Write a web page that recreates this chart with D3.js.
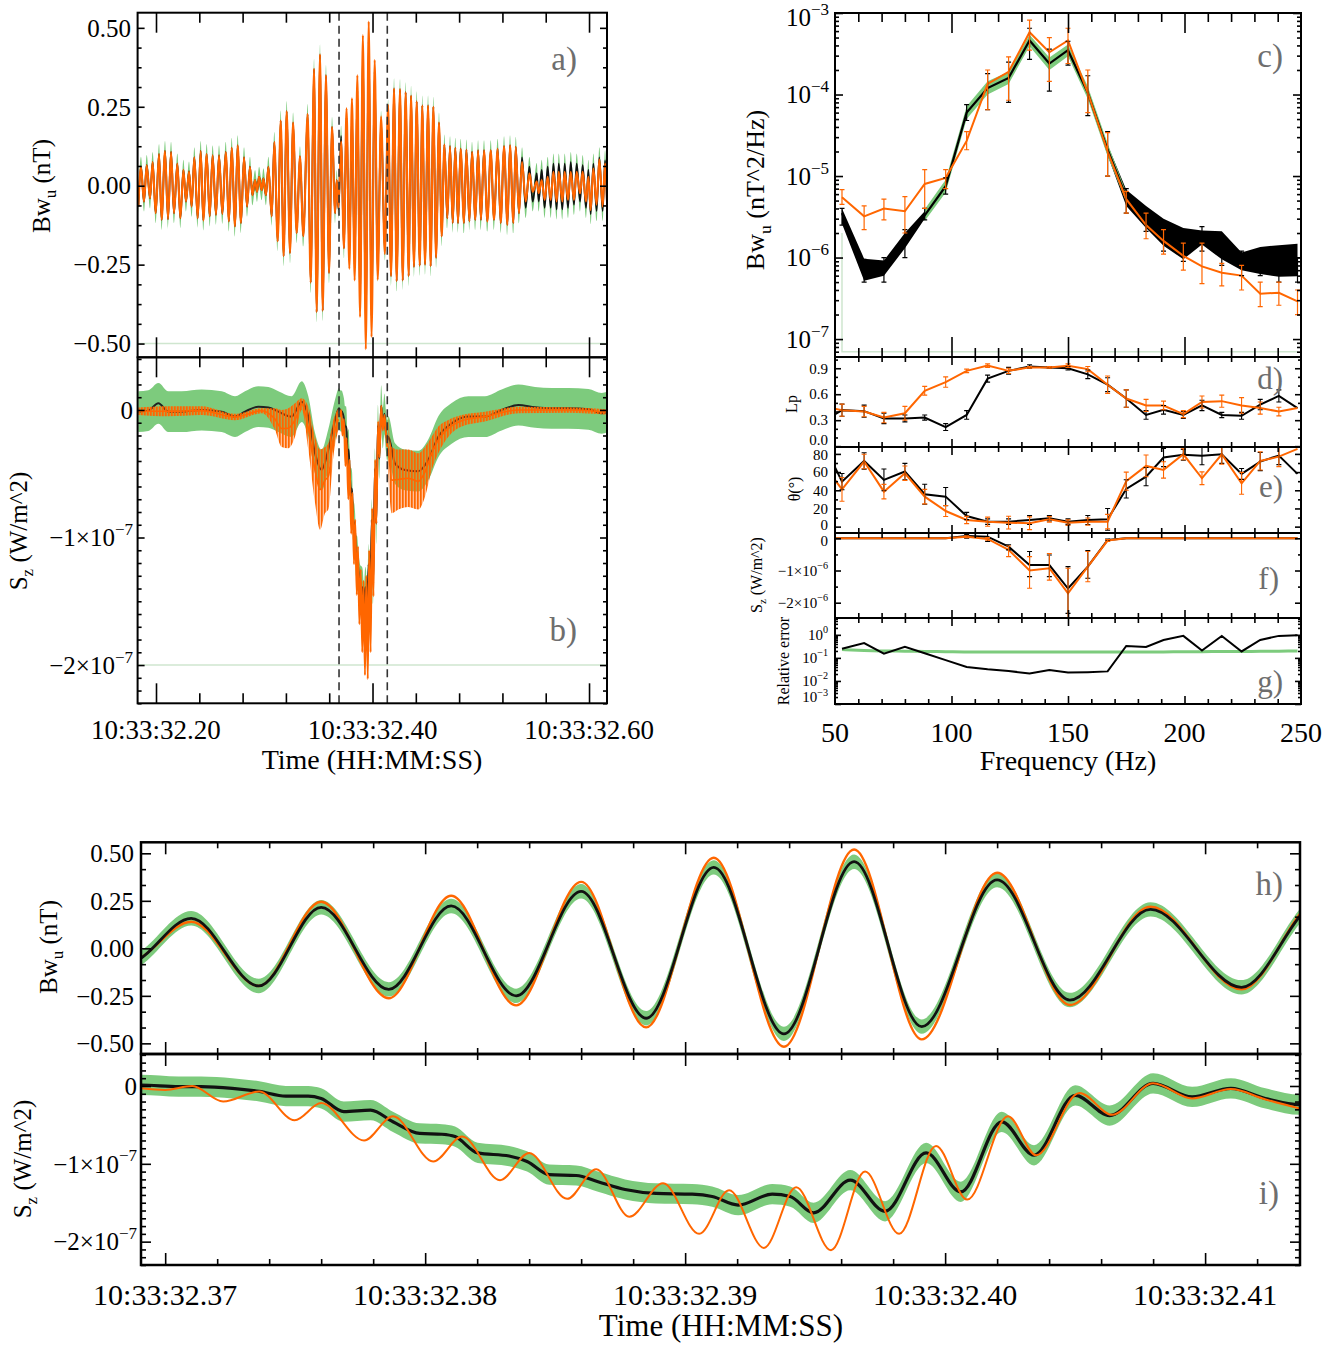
<!DOCTYPE html>
<html><head><meta charset="utf-8">
<script src="https://cdn.jsdelivr.net/npm/d3@7"></script>
<style>body{margin:0;background:#fff} text{font-family:"Liberation Serif","Times New Roman",serif;fill:#000}</style>
</head><body>
<svg id="fig" width="1338" height="1346"></svg>
<script>
// ======================= DATA =======================
// time in ms after 10:33:32.000
const timeTicksAB = [200, 400, 600];
const timeMinorAB = [240, 280, 320, 360, 440, 480, 520, 560];
const timeTicksHI = [370, 380, 390, 400, 410];
const timeMinorHI = [372,374,376,378,382,384,386,388,392,394,396,398,402,404,406,408,412];
const windowStart = 369.07, windowEnd = 413.65;

// Bw_u (nT) orange waveform extrema [t, value]
const bwOrange = [
[183.7,-0.066],[186.1,0.06],[188.9,-0.05],[191.4,0.065],[194.5,-0.04],[196.9,0.075],[199.7,-0.087],[202.8,0.10],
[205.2,-0.108],[208.3,0.11],[211.1,-0.106],[213.9,0.107],[216.6,-0.087],[219.7,0.07],[222.5,-0.103],[225.3,0.05],
[227.7,-0.05],[230.5,0.045],[232.9,-0.066],[235.4,0.09],[238.5,-0.103],[241.3,0.11],[243.7,-0.11],[246.8,0.10],
[249.6,-0.097],[252.3,0.096],[255.4,-0.092],[258.2,0.096],[261.3,-0.089],[264.4,0.107],[267.4,-0.113],[269.9,0.12],
[273.0,-0.129],[275.4,0.128],[278.5,-0.118],[281.3,0.09],[284.1,-0.066],[286.8,0.06],[289.0,-0.03],[291.5,0.018],
[293.3,-0.019],[295.2,0.028],[297.6,-0.014],[299.2,0.023],[301.6,-0.03],[303.8,0.06],[306.9,-0.097],[309.3,0.138],
[312.4,-0.176],[315.2,0.206],[317.9,-0.223],[320.7,0.236],[323.8,-0.213],[326.6,0.20],[329.9,-0.15],[333.0,0.093],
[336.1,-0.16],[340.1,0.227],[342.9,-0.307],[346.0,0.37],[348.4,-0.40],[351.5,0.416],[354.0,-0.396],[357.0,0.35],
[359.8,-0.276],[362.6,0.186],[365.4,-0.087],[366.9,0.018],
[368.6,-0.07],[371.0,0.14],[373.6,-0.198],[376.0,0.245],[378.6,-0.263],[381.0,0.277],[383.5,-0.30],[386.0,0.35],
[388.5,-0.416],[391.1,0.477],[393.8,-0.518],[396.5,0.52],[399.1,-0.479],[402.0,0.398],[404.8,-0.298],[407.9,0.219],
[411.4,-0.216],[414.4,0.256],
[417.1,-0.286],[419.9,0.308],[422.3,-0.302],[425.4,0.306],[427.9,-0.30],[430.6,0.296],[433.4,-0.286],[435.6,0.285],
[438.3,-0.257],[440.8,0.267],[443.6,-0.253],[446.0,0.254],[448.5,-0.25],[451.3,0.254],[453.7,-0.255],[456.2,0.25],
[458.7,-0.228],[461.4,0.20],[463.9,-0.16],[466.4,0.13],[469.1,-0.103],[471.6,0.125],[474.1,-0.118],[476.5,0.12],
[479.0,-0.118],[481.4,0.117],[484.5,-0.118],[486.7,0.114],[489.5,-0.113],[491.9,0.107],[495.0,-0.108],[497.5,0.112],
[500.2,-0.108],[503.0,0.112],[506.1,-0.113],[509.2,0.112],[512.2,-0.108],[515.6,0.117],[518.4,-0.118],[521.5,0.125],
[524.6,-0.124],[527.0,0.128],[530.1,-0.118],[532.3,0.123],[535.3,-0.087],[538.1,0.075],[541.5,-0.05],[544.9,0.039],
[548.0,-0.019],[551.7,0.013],[553.5,-0.024],[556.3,0.018],[559.0,-0.045],[561.8,0.028],[564.6,-0.045],[567.1,0.044],
[570.1,-0.05],[572.0,0.044],[575.4,-0.05],[577.5,0.044],[580.6,-0.045],[583.1,0.044],[586.1,-0.045],[588.6,0.044],
[591.7,-0.024],[594.1,0.044],[597.2,-0.05],[599.4,0.028],[601.5,-0.077],[604.0,0.054],[607.0,-0.06],[609.5,0.083],
[612.6,-0.066],[614.8,0.07],[616.6,-0.05]];
// black waveform extrema where it departs from the orange one
const bwBlackWindow = [[368.6,-0.075],[371.0,0.158],[373.6,-0.198],[376.0,0.216],[378.6,-0.216],[381.0,0.223],
[383.5,-0.25],[386.0,0.30],[388.5,-0.368],[391.1,0.426],[393.8,-0.45],[396.5,0.456],[399.1,-0.412],[402.0,0.36],
[404.8,-0.272],[407.9,0.205],[411.4,-0.205],[414.4,0.24]];
const bwBlackQuiet = [[538.1,0.09],[541.5,-0.07],[544.9,0.06],[548.0,-0.05],[551.7,0.04],[553.5,-0.05],[556.3,0.05],
[559.0,-0.07],[561.8,0.06],[564.6,-0.07],[567.1,0.07],[570.1,-0.075],[572.0,0.07],[575.4,-0.075],[577.5,0.07],
[580.6,-0.07],[583.1,0.075],[586.1,-0.06],[588.6,0.07],[591.7,-0.05],[594.1,0.065],[597.2,-0.07],[599.4,0.05],
[601.5,-0.09],[604.0,0.07],[607.0,-0.08],[609.5,0.09],[612.6,-0.08],[614.8,0.08],[616.6,-0.06]];
const bwBandHalfA = 0.032, bwBandHalfH = 0.038;

// S_z in units of 1e-7 W/m^2
const szBlackOut = [[183.7,-0.013],[192.9,-0.005],[202.2,0.052],[211.4,-0.013],[223.7,-0.013],[242.2,0.0],[260.7,-0.013],
[273.0,-0.052],[282.2,-0.013],[294.5,0.026],[303.8,0.02],[313.0,-0.013],[325.3,-0.052],[334.6,0.065],[340.7,-0.052],
[346.9,-0.34],[353.0,-0.47],[359.2,-0.31],[365.4,-0.078],
[414.6,-0.21],[420.8,-0.42],[430.0,-0.47],[442.3,-0.48],[451.6,-0.39],[460.8,-0.21],[473.1,-0.105],[488.5,-0.052],
[503.9,-0.052],[519.3,0.0],[534.7,0.039],[550.1,0.021],[565.5,0.013],[580.9,0.013],[599.4,0.005],[611.7,-0.026],[617.9,-0.013]];
const szBlackWin = [[369.07,0.013],[370.52,-0.008],[371.38,-0.008],[372.58,-0.03],[373.62,-0.07],[374.64,-0.13],[375.5,-0.13],
[376.0,-0.16],[376.87,-0.33],[377.9,-0.31],[378.76,-0.46],[379.79,-0.61],[380.65,-0.62],[381.15,-0.65],[382.02,-0.86],
[383.23,-0.90],[383.92,-0.97],[384.77,-1.14],[385.81,-1.15],[386.65,-1.23],[387.69,-1.33],[388.88,-1.38],[390.27,-1.39],
[391.04,-1.42],[392.04,-1.53],[393.35,-1.39],[394.04,-1.42],[394.94,-1.63],[396.35,-1.21],[397.69,-1.61],[399.27,-0.86],
[400.6,-1.36],[402.18,-0.46],[403.42,-0.89],[405.0,-0.12],[406.33,-0.38],[408.0,0.034],[409.5,-0.14],[410.99,-0.03],
[412.32,-0.16],[413.65,-0.24]];
const szOrangeWin = [[369.07,-0.03],[370.0,-0.05],[371.04,0.0],[372.23,-0.2],[373.62,-0.07],[374.98,-0.44],[376.0,-0.22],
[377.65,-0.70],[378.76,-0.39],[380.31,-0.97],[381.42,-0.65],[382.88,-1.21],[384.0,-0.86],[385.46,-1.45],[386.58,-1.07],
[387.85,-1.68],[389.15,-1.25],[390.54,-1.90],[391.69,-1.34],[393.03,-2.08],[394.27,-1.30],[395.61,-2.11],[396.92,-1.10],
[398.23,-1.90],[399.65,-0.77],[400.85,-1.46],[402.42,-0.39],[403.5,-0.89],[405.17,-0.09],[406.42,-0.37],[408.0,0.034],
[409.5,-0.16],[410.99,-0.04],[412.3,-0.17],[413.65,-0.29]];
// orange envelope outside the zoom window [t, upper, lower]
const szOrangeEnv = [[183.7,0.02,-0.04],[211,0.03,-0.05],[242,0.03,-0.04],[273,-0.03,-0.08],[297.6,0.013,-0.026],
[309.9,0.013,-0.157],[316.1,0.0,-0.29],[322.2,0.013,-0.3],[328.4,0.052,-0.21],[334.6,0.091,0.0],[340.7,0.026,-0.31],
[346.9,-0.21,-0.73],[351.5,-0.31,-0.94],[356.1,-0.29,-0.81],[359.2,-0.26,-0.78],[363.8,-0.078,-0.366],[368.4,0.013,-0.157],
[414.6,-0.052,-0.52],[417.7,-0.29,-0.81],[423.9,-0.31,-0.78],[433.1,-0.31,-0.76],[442.3,-0.34,-0.78],[448.5,-0.29,-0.68],
[454.7,-0.21,-0.47],[460.8,-0.13,-0.34],[470.1,-0.078,-0.21],[482.4,-0.039,-0.13],[503.9,-0.013,-0.091],[534.7,0.026,-0.026],
[580.9,0.021,-0.021],[617.9,0.005,-0.039]];
const szBandHalfB = 0.16, szBandHalfI = 0.13;

// spectra (Hz); index 0 lies just left of the plotted range
const freqs = [46,53,62.5,71,80,88.5,97.5,106.5,115.5,124.5,133.5,142,150,158.5,167,175,183.5,191,199.5,207.5,216,224.5,232.5,240.5,248.5];
const freqTicks = [50,100,150,200,250];
const psdBlack = [null,3.5e-6,7e-7,7.8e-7,1.5e-6,3.3e-6,7.5e-6,6e-5,1.2e-4,1.6e-4,4.6e-4,2.4e-4,3.5e-4,1.05e-4,2.1e-5,5.5e-6,2.8e-6,1.6e-6,1.07e-6,1.72e-6,1.13e-6,8.5e-7,7.8e-7,7.4e-7,7.8e-7];
const psdBandHi = [null,4e-6,9.7e-7,9.2e-7,2e-6,3.7e-6,8e-6,6.4e-5,1.27e-4,1.7e-4,4.85e-4,2.55e-4,3.7e-4,1.12e-4,2.4e-5,6.8e-6,4.3e-6,3e-6,2.3e-6,2.15e-6,2.1e-6,1.15e-6,1.35e-6,1.42e-6,1.48e-6];
const psdBandLo = [null,2.6e-6,5.2e-7,6e-7,1.3e-6,3e-6,7e-6,5.6e-5,1.13e-4,1.5e-4,4.35e-4,2.25e-4,3.3e-4,9.8e-5,1.8e-5,4.3e-6,2.3e-6,1.4e-6,9.5e-7,1.45e-6,9.5e-7,7e-7,6.3e-7,5.8e-7,5.9e-7];
const psdGreenHi = [null,null,null,null,null,3.9e-6,9e-6,7.2e-5,1.45e-4,1.9e-4,5.4e-4,2.85e-4,4.1e-4,1.25e-4,2.5e-5,6.3e-6,null,null,null,null,null,null,null,null,null];
const psdGreenLo = [null,null,null,null,null,2.8e-6,6.3e-6,5e-5,1.0e-4,1.35e-4,3.9e-4,2.0e-4,2.95e-4,8.8e-5,1.75e-5,4.8e-6,null,null,null,null,null,null,null,null,null];
const psdOrange = [null,5.5e-6,3.2e-6,4e-6,3.7e-6,8e-6,9.5e-6,2.7e-5,1.35e-4,1.9e-4,5.8e-4,3.3e-4,4.6e-4,1.05e-4,2e-5,5.2e-6,2.5e-6,1.6e-6,1.05e-6,7.8e-7,6.5e-7,6e-7,3.6e-7,3.7e-7,2.9e-7];
const psdBlackErrLo = [null,2.5e-6,5e-7,5e-7,1e-6,2.9e-6,6e-6,4.8e-5,6.5e-5,8e-5,2.7e-4,1.1e-4,2.3e-4,5.5e-5,1e-5,3.5e-6,2.1e-6,1.2e-6,9e-7,1.2e-6,8e-7,6e-7,6e-7,5e-7,5e-7];
const psdBlackErrHi = [null,4e-6,9.5e-7,1e-6,2.2e-6,4e-6,9.5e-6,7.5e-5,1.8e-4,2.5e-4,6.5e-4,3.6e-4,4.5e-4,1.7e-4,3.5e-5,7e-6,3.2e-6,2.2e-6,1.5e-6,2.4e-6,1.5e-6,1.2e-6,1e-6,1e-6,1e-6];
const psdOrangeErrLo = [null,4.5e-6,2.2e-6,2.9e-6,2e-6,4e-6,7e-6,2.1e-5,6.5e-5,8.5e-5,3.5e-4,1.45e-4,2.4e-4,6e-5,1e-5,3.5e-6,1.7e-6,1.1e-6,7e-7,4.8e-7,4.5e-7,4e-7,2.5e-7,2.6e-7,2e-7];
const psdOrangeErrHi = [null,6.8e-6,4.3e-6,5.2e-6,5.6e-6,1.2e-5,1.2e-5,3.5e-5,2e-4,2.9e-4,8.2e-4,5e-4,6.5e-4,2e-4,3.4e-5,6.5e-6,3.5e-6,2.2e-6,1.5e-6,1.5e-6,8.5e-7,8e-7,5e-7,5e-7,4e-7];
const psdFloor = 7e-8, psdFloorTop = 2e-6;

const lpBlack = [0.30,0.416,0.404,0.32,0.32,0.33,0.22,0.36,0.78,0.87,0.92,0.91,0.90,0.83,0.71,0.55,0.36,0.42,0.36,0.47,0.36,0.35,0.48,0.58,0.44];
const lpOrange = [0.454,0.416,0.40,0.33,0.38,0.64,0.74,0.87,0.93,0.87,0.91,0.91,0.93,0.89,0.71,0.55,0.47,0.47,0.37,0.51,0.52,0.47,0.44,0.40,0.44];
const lpBlackErr = [null,0.07,0.07,0.06,0.04,0.03,0.04,0.05,0.04,0.04,0.02,0.01,0.02,0.05,0.08,0.1,0.05,0.05,0.04,0.06,0.03,0.04,0.06,0.07,null];
const lpOrangeErr = [null,0.07,0.06,0.06,0.08,0.05,0.06,0.02,0.02,0.03,0.01,0.01,0.02,0.03,0.1,0.1,0.07,0.05,0.04,0.07,0.07,0.09,0.07,0.05,null];

const thBlack = [86.5,49.5,72.3,51.4,60.6,35.6,33,11.7,5.5,5.5,7.3,9.2,5.5,7.3,8,41.5,55,76,79,78,79.6,58,71.6,78.2,58];
const thOrange = [65,41,71.6,38.5,58.7,33,17.2,7.3,5.5,4.4,3.7,8,4.4,5.5,5.5,50,66.8,62.4,79.6,53.2,79.6,47.7,72.3,77,85.5];
const thBlackErr = [null,9,9,12,9,11,10,4,3,3,5,3,3,5,12,10,10,10,6,10,10,6,10,10,null];
const thOrangeErr = [null,13,8,8,8,8,6,4,5,7,7,3,3,4,8,10,12,9,6,7,11,12,10,11,null];

// S_z spectrum, units 1e-6 W/m^2
const fluxBlack = [0,0,0,0,0,0,0,0.07,0.05,-0.26,-0.83,-0.83,-1.56,-0.88,-0.05,0,0,0,0,0,0,0,0,0,0];
const fluxOrange = [0,0,0,0,0,0,0,0.05,-0.02,-0.36,-1.0,-0.93,-1.71,-0.88,-0.07,0,0,0,0,0,0,0,0,0,0];
const N7 = [null,null,null,null,null,null,null];
const N10 = [null,null,null,null,null,null,null,null,null,null];
const fluxBlackLo = N7.concat([0.0,-0.1,-0.36,-1.19,-1.19,-2.33,-1.24,-0.08],N10);
const fluxBlackHi = N7.concat([0.12,0.15,-0.2,-0.41,-0.52,-0.88,-0.38,-0.02],N10);
const fluxOrangeLo = N7.concat([0.02,-0.06,-0.57,-1.55,-1.3,-2.46,-1.35,-0.1],N10);
const fluxOrangeHi = N7.concat([0.08,0.02,-0.24,-0.57,-0.47,-0.93,-0.41,-0.04],N10);

const relErr = [null,0.25,0.44,0.153,0.30,0.16,0.08,0.04,0.032,0.027,0.021,0.03,0.023,0.024,0.026,0.33,0.30,0.6,0.9,0.21,0.9,0.19,0.6,0.9,0.97];
const relErrRef = [null,0.23,0.21,0.2,0.195,0.19,0.185,0.18,0.18,0.178,0.178,0.178,0.178,0.178,0.18,0.18,0.18,0.182,0.184,0.186,0.188,0.19,0.192,0.195,0.198];

// ======================= DRAWING =======================
const ORANGE = "#ff6600", GREEN = "#7dcb7d", LIGHT = "#cfe6cf";
const svg = d3.select("#fig");
const defs = svg.append("defs");
const pat = defs.append("pattern").attr("id","spikes").attr("patternUnits","userSpaceOnUse").attr("width",3).attr("height",12);
pat.append("rect").attr("width",3).attr("height",12).attr("fill",ORANGE).attr("fill-opacity",0.4);
pat.append("rect").attr("width",1.7).attr("height",12).attr("fill",ORANGE);
let clipN = 0;
function clipG(xs, ys){
  const id = "cp"+(clipN++); const [x0,x1]=xs.range(); const [yb,yt]=ys.range();
  defs.append("clipPath").attr("id",id).append("rect").attr("x",x0).attr("y",yt).attr("width",x1-x0).attr("height",yb-yt);
  return svg.append("g").attr("clip-path",`url(#${id})`);
}
function box(xs, ys, o){
  const [x0,x1]=xs.range(); const [yb,yt]=ys.range();
  const g = svg.append("g");
  const tk=(axis, scale, vals, len, tr)=>{ if(!vals||!vals.length) return;
    g.append("g").attr("transform",tr).call(axis(scale).tickValues(vals).tickSizeInner(-len).tickSizeOuter(0).tickFormat(""))
     .call(s=>{s.select(".domain").remove(); s.selectAll("line").attr("stroke","#000").attr("stroke-width",1.6);});};
  tk(d3.axisBottom, xs, o.xMaj, o.xMajL, `translate(0,${yb})`);
  tk(d3.axisTop, xs, o.xMaj, o.xMajL, `translate(0,${yt})`);
  tk(d3.axisBottom, xs, o.xMin, o.xMinL, `translate(0,${yb})`);
  tk(d3.axisTop, xs, o.xMin, o.xMinL, `translate(0,${yt})`);
  tk(d3.axisLeft, ys, o.yMaj, o.yMajL, `translate(${x0},0)`);
  tk(d3.axisRight, ys, o.yMaj, o.yMajL, `translate(${x1},0)`);
  tk(d3.axisLeft, ys, o.yMin, o.yMinL, `translate(${x0},0)`);
  tk(d3.axisRight, ys, o.yMin, o.yMinL, `translate(${x1},0)`);
  g.append("rect").attr("x",x0).attr("y",yt).attr("width",x1-x0).attr("height",yb-yt)
   .attr("fill","none").attr("stroke","#000").attr("stroke-width",o.bw||2);
}
function sup(t, base, exp, fs){
  t.append("tspan").text(base);
  t.append("tspan").attr("dy",-fs*0.45).attr("font-size",fs*0.68).text(exp);
}
function yLabels(ys, vals, x, fs, fmt, shift){
  vals.forEach(v=>{
    const t = svg.append("text").attr("x",x).attr("y",ys(v)+fs*0.35+(shift?shift(v):0))
      .attr("text-anchor","end").attr("font-size",fs);
    fmt(t,v,fs);
  });
}
function xLabels(xs, vals, y, fs, fmt){
  vals.forEach(v=>svg.append("text").attr("x",xs(v)).attr("y",y).attr("text-anchor","middle").attr("font-size",fs).text(fmt(v)));
}
function yTitle(x, y, fs, parts){
  const t = svg.append("text").attr("transform",`translate(${x},${y}) rotate(-90)`).attr("text-anchor","middle").attr("font-size",fs);
  parts.forEach(p=>{ const s=t.append("tspan").text(p.t);
    if(p.sub){ s.attr("font-size",fs*0.68).attr("dy",fs*0.25); }
    if(p.back){ s.attr("dy",-fs*0.25); } });
}
function panelLabel(x, y, fs, txt){
  svg.append("text").attr("x",x).attr("y",y).attr("text-anchor","end").attr("font-size",fs)
    .style("fill","#6e6e6e").text(txt);
}
const mline = (xs, ys) => d3.line().x(d=>xs(d[0])).y(d=>ys(d[1])).curve(d3.curveMonotoneX);
const band = (xs, ys, h) => d3.area().x(d=>xs(d[0])).y0(d=>ys(d[1]-h)).y1(d=>ys(d[1]+h)).curve(d3.curveMonotoneX);
const minus = s => String(s).replace("-","\u2212");
const fmtTime = v => "10:33:32." + String(Math.round(v/10)).padStart(2,"0");

// ---------- scales ----------
const tA = d3.scaleLinear().domain([183.0, 616.6]).range([137.6, 607]);
const yA = d3.scaleLinear().domain([-0.5435, 0.548]).range([357.3, 12.7]);
const yB = d3.scaleLinear().domain([-2.3, 0.413]).range([703.3, 357.3]);
const tH = d3.scaleLinear().domain([windowStart, windowEnd]).range([141, 1300]);
const yH = d3.scaleLinear().domain([-0.556, 0.558]).range([1054, 842.3]);
const yI = d3.scaleLinear().domain([-2.30, 0.411]).range([1265, 1054]);
const fX = d3.scaleLinear().domain([50,250]).range([835,1301]);
const yC = d3.scaleLog().domain([Math.pow(10,-7.22), 1e-3]).range([357, 13]);
const yD = d3.scaleLinear().domain([-0.01, 1.03]).range([447, 357]);
const yE = d3.scaleLinear().domain([-7, 87.6]).range([533, 447]);
const yF = d3.scaleLinear().domain([-2.475, 0.165]).range([618, 533]);
const yG = d3.scaleLog().domain([1e-3, Math.pow(10,0.73)]).range([704, 618]);

// ---------- derived series ----------
const bwBlack = bwOrange.filter(d => (d[0] < 368 || d[0] > 415) && !(d[0] > 537 && d[0] < 617))
  .concat(bwBlackWindow, bwBlackQuiet).sort((a,b)=>a[0]-b[0]);
const szBlackAll = szBlackOut.concat(szBlackWin).sort((a,b)=>a[0]-b[0]);

// ---------- panel a ----------
{
  const g = clipG(tA, yA);
  g.append("line").attr("x1",tA.range()[0]).attr("x2",tA.range()[1]).attr("y1",yA(-0.5)).attr("y2",yA(-0.5)).attr("stroke",LIGHT).attr("stroke-width",1.5);
  g.append("path").attr("d", band(tA,yA,bwBandHalfA)(bwBlack)).attr("fill",GREEN);
  g.append("path").attr("d", mline(tA,yA)(bwBlack)).attr("fill","none").attr("stroke","#111").attr("stroke-width",1.8);
  g.append("path").attr("d", mline(tA,yA)(bwOrange)).attr("fill","none").attr("stroke",ORANGE).attr("stroke-width",2.1);
  [windowStart, windowEnd].forEach(t=>g.append("line").attr("x1",tA(t)).attr("x2",tA(t)).attr("y1",yA.range()[1]).attr("y2",yA.range()[0])
    .attr("stroke","#333").attr("stroke-width",1.6).attr("stroke-dasharray","8,5"));
  box(tA, yA, {xMaj:timeTicksAB, xMajL:20, xMin:timeMinorAB, xMinL:10,
    yMaj:[-0.5,-0.25,0,0.25,0.5], yMajL:7, yMin:d3.range(-0.5,0.51,0.0625).filter(v=>Math.abs(v*4-Math.round(v*4))>1e-6), yMinL:4});
  yLabels(yA, [-0.5,-0.25,0,0.25,0.5], 131, 25, (t,v)=>t.text(d3.format(".2f")(v)));
  yTitle(50, 186, 25, [{t:"Bw"},{t:"u",sub:true},{t:" (nT)",back:true}]);
  panelLabel(577, 70, 33, "a)");
}
// ---------- panel b ----------
{
  const g = clipG(tA, yB);
  g.append("line").attr("x1",tA.range()[0]).attr("x2",tA.range()[1]).attr("y1",yB(-2)).attr("y2",yB(-2)).attr("stroke",LIGHT).attr("stroke-width",1.5);
  g.append("path").attr("d", band(tA,yB,szBandHalfB)(szBlackAll)).attr("fill",GREEN);
  g.append("path").attr("d", mline(tA,yB)(szBlackAll)).attr("fill","none").attr("stroke","#222").attr("stroke-width",2);
  const env = d3.area().x(d=>tA(d[0])).y0(d=>yB(d[2])).y1(d=>yB(d[1])).curve(d3.curveMonotoneX);
  [szOrangeEnv.filter(d=>d[0]<windowStart), szOrangeEnv.filter(d=>d[0]>windowEnd)].forEach(seg=>{
    g.append("path").attr("d", env(seg)).attr("fill","url(#spikes)");
    g.append("path").attr("d", mline(tA,yB)(seg.map(d=>[d[0],(d[1]+d[2])/2]))).attr("fill","none").attr("stroke",ORANGE).attr("stroke-width",1.6);
  });
  g.append("path").attr("d", mline(tA,yB)(szOrangeWin)).attr("fill","none").attr("stroke",ORANGE).attr("stroke-width",2);
  [windowStart, windowEnd].forEach(t=>g.append("line").attr("x1",tA(t)).attr("x2",tA(t)).attr("y1",yB.range()[1]).attr("y2",yB.range()[0])
    .attr("stroke","#333").attr("stroke-width",1.6).attr("stroke-dasharray","8,5"));
  box(tA, yB, {xMaj:timeTicksAB, xMajL:20, xMin:timeMinorAB, xMinL:10,
    yMaj:[-2,-1,0], yMajL:7, yMin:d3.range(-2.3,0.41,0.1).map(v=>+v.toFixed(1)).filter(v=>v!==0&&v!==-1&&v!==-2), yMinL:4});
  yLabels(yB, [-2,-1,0], 133, 25, (t,v,fs)=>{ if(v===0) t.text("0"); else sup(t, minus(v)+"\u00d710", "\u22127", fs); });
  xLabels(tA, timeTicksAB, 739, 27, fmtTime);
  svg.append("text").attr("x",372).attr("y",769).attr("text-anchor","middle").attr("font-size",28).text("Time (HH:MM:SS)");
  yTitle(27, 531, 25, [{t:"S"},{t:"z",sub:true},{t:" (W/m^2)",back:true}]);
  panelLabel(577, 641, 33, "b)");
}
// ---------- frequency panels ----------
const freqMinor = d3.range(60,250,10).filter(v=>v%50!==0);
const idx = d3.range(freqs.length);
function errBars(g, ys, lo, hi, color, w){
  g.selectAll(null).data(idx.filter(i=>lo[i]!=null)).join("path")
    .attr("d", i=>{ const x=fX(freqs[i]), a=ys(lo[i]), b=ys(hi[i]); return `M${x-2.5},${a}H${x+2.5}M${x},${a}V${b}M${x-2.5},${b}H${x+2.5}`; })
    .attr("fill","none").attr("stroke",color).attr("stroke-width",w||1.2);
}
const sym = (vals, err) => [vals.map((v,i)=>err[i]==null?null:v-err[i]), vals.map((v,i)=>err[i]==null?null:v+err[i])];
// panel c
{
  const g = clipG(fX, yC);
  g.append("path").attr("d", d3.line()([[fX(freqs[1]),yC(psdFloorTop)],[fX(freqs[1]),yC(psdFloor)],[fX(freqs[24]),yC(psdFloor)]]))
    .attr("fill","none").attr("stroke",LIGHT).attr("stroke-width",1.5);
  const ii = idx.filter(i=>psdBlack[i]!=null);
  g.append("path").attr("d", d3.area().x(i=>fX(freqs[i])).y0(i=>yC(psdBandLo[i])).y1(i=>yC(psdBandHi[i]))(ii)).attr("fill","#000");
  const gi = idx.filter(i=>psdGreenHi[i]!=null);
  g.append("path").attr("d", d3.area().x(i=>fX(freqs[i])).y0(i=>yC(psdGreenLo[i])).y1(i=>yC(psdGreenHi[i]))(gi)).attr("fill",GREEN);
  g.append("path").attr("d", d3.line().x(i=>fX(freqs[i])).y(i=>yC(psdBlack[i]))(ii)).attr("fill","none").attr("stroke","#000").attr("stroke-width",2.2);
  g.append("path").attr("d", d3.line().x(i=>fX(freqs[i])).y(i=>yC(psdOrange[i]))(ii)).attr("fill","none").attr("stroke",ORANGE).attr("stroke-width",2);
  errBars(g, yC, psdBlackErrLo, psdBlackErrHi, "#000", 1.2);
  errBars(g, yC, psdOrangeErrLo, psdOrangeErrHi, ORANGE, 1.2);
  const majors=[1e-7,1e-6,1e-5,1e-4,1e-3];
  const minors=[]; for(let e=-8;e<=-4;e++) for(let k=2;k<=9;k++){ const v=k*Math.pow(10,e); if(v>=yC.domain()[0]&&v<=1e-3) minors.push(v); }
  box(fX, yC, {xMaj:[100,150,200], xMajL:20, xMin:freqMinor, xMinL:9, yMaj:majors, yMajL:8, yMin:minors, yMinL:4});
  yLabels(yC, majors, 829, 25, (t,v,fs)=>sup(t,"10","\u2212"+Math.round(-Math.log10(v)),fs), v=>v===1e-3?4:0);
  yTitle(764, 190, 26, [{t:"Bw"},{t:"u",sub:true},{t:" (nT^2/Hz)",back:true}]);
  panelLabel(1283, 67, 33, "c)");
}
// panel d
{
  const g = clipG(fX, yD);
  g.append("path").attr("d", d3.line().x(i=>fX(freqs[i])).y(i=>yD(lpBlack[i]))(idx)).attr("fill","none").attr("stroke","#000").attr("stroke-width",2);
  g.append("path").attr("d", d3.line().x(i=>fX(freqs[i])).y(i=>yD(lpOrange[i]))(idx)).attr("fill","none").attr("stroke",ORANGE).attr("stroke-width",2);
  const [bl,bh]=sym(lpBlack,lpBlackErr), [ol,oh]=sym(lpOrange,lpOrangeErr);
  errBars(g, yD, bl, bh, "#000", 1.1); errBars(g, yD, ol, oh, ORANGE, 1.1);
  box(fX, yD, {xMaj:[100,150,200], xMajL:8, xMin:freqMinor, xMinL:5, yMaj:[0,0.3,0.6,0.9], yMajL:6, yMin:[0.1,0.2,0.4,0.5,0.7,0.8,1.0], yMinL:3});
  yLabels(yD, [0,0.3,0.6,0.9], 828, 15, (t,v)=>t.text(d3.format(".1f")(v)), v=>v===0?-6:0);
  yTitle(797, 404, 16, [{t:"Lp"}]);
  panelLabel(1283, 389, 31, "d)");
}
// panel e
{
  const g = clipG(fX, yE);
  g.append("path").attr("d", d3.line().x(i=>fX(freqs[i])).y(i=>yE(thBlack[i]))(idx)).attr("fill","none").attr("stroke","#000").attr("stroke-width",2);
  g.append("path").attr("d", d3.line().x(i=>fX(freqs[i])).y(i=>yE(thOrange[i]))(idx)).attr("fill","none").attr("stroke",ORANGE).attr("stroke-width",2);
  const [bl,bh]=sym(thBlack,thBlackErr), [ol,oh]=sym(thOrange,thOrangeErr);
  errBars(g, yE, bl, bh, "#000", 1.1); errBars(g, yE, ol, oh, ORANGE, 1.1);
  box(fX, yE, {xMaj:[100,150,200], xMajL:8, xMin:freqMinor, xMinL:5, yMaj:[0,20,40,60,80], yMajL:6, yMin:[10,30,50,70], yMinL:3});
  yLabels(yE, [0,20,40,60,80], 828, 15, (t,v)=>t.text(v), v=>v===0?-2:(v===80?1:0));
  yTitle(800, 489, 16, [{t:"\u03b8(\u00b0)"}]);
  panelLabel(1283, 497, 31, "e)");
}
// panel f
{
  const g = clipG(fX, yF);
  g.append("path").attr("d", d3.line().x(i=>fX(freqs[i])).y(i=>yF(fluxBlack[i]))(idx)).attr("fill","none").attr("stroke","#000").attr("stroke-width",2);
  g.append("path").attr("d", d3.line().x(i=>fX(freqs[i])).y(i=>yF(fluxOrange[i]))(idx)).attr("fill","none").attr("stroke",ORANGE).attr("stroke-width",2);
  errBars(g, yF, fluxBlackLo, fluxBlackHi, "#000", 1.1); errBars(g, yF, fluxOrangeLo, fluxOrangeHi, ORANGE, 1.1);
  box(fX, yF, {xMaj:[100,150,200], xMajL:8, xMin:freqMinor, xMinL:5, yMaj:[-2,-1,0], yMajL:6, yMin:[-2.5,-1.5,-0.5], yMinL:3});
  yLabels(yF, [-2,-1,0], 828, 15, (t,v,fs)=>{ if(v===0) t.text("0"); else sup(t, minus(v)+"\u00d710", "\u22126", fs); }, v=>v===0?2:0);
  yTitle(762, 575, 16, [{t:"S"},{t:"z",sub:true},{t:" (W/m^2)",back:true}]);
  panelLabel(1279, 589, 31, "f)");
}
// panel g
{
  const g = clipG(fX, yG);
  const ii = idx.filter(i=>relErr[i]!=null);
  g.append("path").attr("d", d3.line().x(i=>fX(freqs[i])).y(i=>yG(relErrRef[i])).curve(d3.curveMonotoneX)(ii)).attr("fill","none").attr("stroke",GREEN).attr("stroke-width",3);
  g.append("path").attr("d", d3.line().x(i=>fX(freqs[i])).y(i=>yG(relErr[i]))(ii)).attr("fill","none").attr("stroke","#000").attr("stroke-width",2);
  const majors=[1e-3,1e-2,1e-1,1];
  const minors=[]; for(let e=-3;e<=0;e++) for(let k=2;k<=9;k++){ const v=k*Math.pow(10,e); if(v<=yG.domain()[1]) minors.push(v); }
  box(fX, yG, {xMaj:[100,150,200], xMajL:8, xMin:freqMinor, xMinL:5, yMaj:majors, yMajL:6, yMin:minors, yMinL:3});
  yLabels(yG, majors, 828, 15, (t,v,fs)=>{ const e=Math.round(Math.log10(v)); sup(t,"10",e===0?"0":"\u2212"+(-e),fs); }, v=>v===1e-3?-7:0);
  yTitle(789, 661, 16, [{t:"Relative error"}]);
  xLabels(fX, freqTicks, 742, 28, v=>String(v));
  svg.append("text").attr("x",1068).attr("y",770).attr("text-anchor","middle").attr("font-size",28).text("Frequency (Hz)");
  panelLabel(1283, 692, 31, "g)");
}
// ---------- panel h ----------
{
  const g = clipG(tH, yH);
  g.append("path").attr("d", band(tH,yH,bwBandHalfH)(bwBlack)).attr("fill",GREEN);
  g.append("path").attr("d", mline(tH,yH)(bwOrange)).attr("fill","none").attr("stroke",ORANGE).attr("stroke-width",2.4);
  g.append("path").attr("d", mline(tH,yH)(bwBlack)).attr("fill","none").attr("stroke","#111").attr("stroke-width",2.8);
  box(tH, yH, {xMaj:timeTicksHI, xMajL:12, xMin:timeMinorHI, xMinL:6,
    yMaj:[-0.5,-0.25,0,0.25,0.5], yMajL:10, yMin:[-0.4167,-0.3333,-0.1667,-0.0833,0.0833,0.1667,0.3333,0.4167], yMinL:5, bw:2.5});
  yLabels(yH, [-0.5,-0.25,0,0.25,0.5], 134, 25, (t,v)=>t.text(d3.format(".2f")(v)));
  yTitle(57, 947, 25, [{t:"Bw"},{t:"u",sub:true},{t:" (nT)",back:true}]);
  panelLabel(1283, 895, 33, "h)");
}
// ---------- panel i ----------
{
  const g = clipG(tH, yI);
  g.append("path").attr("d", band(tH,yI,szBandHalfI)(szBlackAll)).attr("fill",GREEN);
  g.append("path").attr("d", mline(tH,yI)(szBlackAll)).attr("fill","none").attr("stroke","#111").attr("stroke-width",3.2);
  g.append("path").attr("d", mline(tH,yI)(szOrangeWin)).attr("fill","none").attr("stroke",ORANGE).attr("stroke-width",2);
  box(tH, yI, {xMaj:timeTicksHI, xMajL:12, xMin:timeMinorHI, xMinL:6,
    yMaj:[-2,-1,0], yMajL:10, yMin:d3.range(-2.3,0.41,0.1).map(v=>+v.toFixed(1)).filter(v=>v!==0&&v!==-1&&v!==-2), yMinL:5, bw:2.5});
  yLabels(yI, [-2,-1,0], 137, 25, (t,v,fs)=>{ if(v===0) t.text("0"); else sup(t, minus(v)+"\u00d710", "\u22127", fs); });
  xLabels(tH, timeTicksHI, 1305, 30, fmtTime);
  svg.append("text").attr("x",721).attr("y",1336).attr("text-anchor","middle").attr("font-size",31).text("Time (HH:MM:SS)");
  yTitle(31, 1159, 25, [{t:"S"},{t:"z",sub:true},{t:" (W/m^2)",back:true}]);
  panelLabel(1279, 1204, 33, "i)");
}
</script>
</body></html>
